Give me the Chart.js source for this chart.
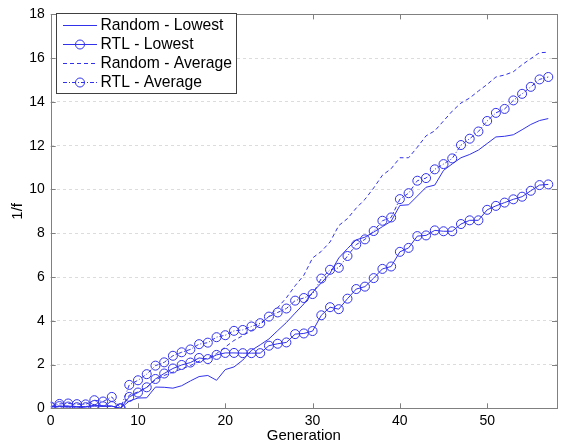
<!DOCTYPE html>
<html><head><meta charset="utf-8">
<script src="https://cdn.jsdelivr.net/npm/chart.js@4/dist/chart.umd.min.js"></script>
<style>html,body{margin:0;padding:0;background:#fff}#w{width:565px;height:445px}</style>
</head><body><div id="w"><canvas id="c" width="565" height="445"></canvas></div>
<script>
const generations = Array.from({length: 58}, (_, i) => i);
const randomLowest = [0.08,0.08,0.1,0.08,0.08,0.1,0.1,0.1,0.0,
 0.33,0.47,0.48,0.97,0.96,0.92,1.03,1.25,1.45,1.5,1.28,1.77,
 1.89,2.2,2.65,2.9,3.17,3.55,3.92,4.35,4.77,5.3,5.73,6.17,6.87,7.3,7.7,
 7.82,8.05,8.3,8.55,9.27,9.3,9.7,10.1,10.2,10.87,11.17,11.45,11.6,11.8,12.1,12.4,12.43,12.5,12.73,12.97,13.15,13.24];
const rtlLowest = [0.05,0.1,0.08,0.05,0.05,0.15,0.09,0.1,0.0,
 0.52,0.72,0.96,1.34,1.59,1.82,1.98,2.09,2.3,2.25,2.44,2.53,
 2.53,2.52,2.52,2.52,2.86,2.95,3.01,3.39,3.42,3.53,4.25,4.62,4.53,5.01,5.45,
 5.56,5.95,6.37,6.48,7.15,7.33,7.87,7.9,8.13,8.09,8.09,8.42,8.59,8.59,9.07,9.25,9.4,9.55,9.67,9.94,10.2,10.23];
const randomAverage = [0.08,0.1,0.1,0.08,0.08,0.12,0.1,0.1,0.0,
 0.6,0.75,0.95,1.3,1.5,1.65,1.8,1.95,2.15,2.3,2.5,2.8,
 3.1,3.32,3.55,3.82,4.2,4.6,5.05,5.6,6.08,6.87,7.17,7.6,8.35,8.67,9.15,
 9.55,10.07,10.65,10.95,11.45,11.45,11.93,12.45,12.68,13.13,13.58,13.95,14.18,14.5,14.8,15.14,15.23,15.38,15.7,15.98,16.25,16.27];
const rtlAverage = [0.08,0.2,0.22,0.19,0.18,0.37,0.31,0.52,0.0,
 1.07,1.28,1.56,1.95,2.1,2.4,2.56,2.69,2.93,3.0,3.25,3.34,
 3.54,3.58,3.74,3.89,4.19,4.38,4.56,4.92,5.04,5.22,5.93,6.33,6.42,6.96,7.48,
 7.72,8.1,8.57,8.72,9.56,9.83,10.4,10.52,10.92,11.16,11.42,12.03,12.32,12.65,13.13,13.5,13.68,14.07,14.37,14.69,15.03,15.14];
const seriesLabels = ['Random - Lowest','RTL - Lowest','Random - Average','RTL - Average'];
const xTicks = [0,10,20,30,40,50];
const yTicks = [0,2,4,6,8,10,12,14,16,18];

const BLUE = 'rgb(50,50,235)';
const FONT = '"Liberation Sans", Arial, sans-serif';
const pts = arr => arr.map((v, i) => ({x: generations[i], y: v}));
const styles = [
  {dash: [], marker: false},
  {dash: [], marker: true},
  {dash: [4,3], marker: false},
  {dash: [4,2,1,2], marker: true}
];
const datasets = [randomLowest, rtlLowest, randomAverage, rtlAverage].map((arr, k) => ({
  label: seriesLabels[k],
  data: pts(arr),
  borderColor: BLUE,
  backgroundColor: 'rgba(0,0,0,0)',
  borderWidth: 1,
  borderDash: styles[k].dash,
  pointStyle: 'circle',
  pointRadius: styles[k].marker ? 4.5 : 0,
  pointBorderWidth: 1,
  pointBorderColor: BLUE,
  pointBackgroundColor: 'rgba(0,0,0,0)',
  tension: 0
}));

const frame = {
  id: 'frame',
  afterDatasetsDraw(chart) {
    const {ctx, chartArea: a, scales} = chart;
    ctx.save();
    ctx.strokeStyle = '#808080';
    ctx.lineWidth = 1;
    ctx.setLineDash([]);
    ctx.strokeRect(Math.round(a.left)+0.5, Math.round(a.top)+0.5, Math.round(a.right-a.left), Math.round(a.bottom-a.top));
    const L = 5;
    ctx.beginPath();
    xTicks.forEach(t => {
      const x = Math.round(scales.x.getPixelForValue(t)) + 0.5;
      ctx.moveTo(x, a.bottom); ctx.lineTo(x, a.bottom - L);
      ctx.moveTo(x, a.top); ctx.lineTo(x, a.top + L);
    });
    yTicks.forEach(t => {
      const y = Math.round(scales.y.getPixelForValue(t)) + 0.5;
      ctx.moveTo(a.left, y); ctx.lineTo(a.left + L, y);
      ctx.moveTo(a.right, y); ctx.lineTo(a.right - L, y);
    });
    ctx.stroke();
    // legend
    const bx = 56.5, by = 13.5, bw = 180, bh = 80;
    ctx.fillStyle = '#fff';
    ctx.fillRect(bx, by, bw, bh);
    ctx.strokeStyle = '#404040';
    ctx.strokeRect(bx, by, bw, bh);
    ctx.font = '15.7px ' + FONT;
    ctx.textBaseline = 'middle';
    ctx.textAlign = 'left';
    seriesLabels.forEach((lab, k) => {
      const y = 25 + k * 19.1;
      ctx.strokeStyle = BLUE;
      ctx.lineWidth = 1;
      ctx.setLineDash(styles[k].dash);
      ctx.beginPath(); ctx.moveTo(63, Math.round(y)+0.5); ctx.lineTo(97, Math.round(y)+0.5); ctx.stroke();
      ctx.setLineDash([]);
      if (styles[k].marker) {
        ctx.beginPath(); ctx.arc(80, Math.round(y)+0.5, 4.5, 0, Math.PI*2); ctx.stroke();
      }
      ctx.fillStyle = '#000';
      ctx.fillText(lab, 100.5, y + 0.5);
    });
    ctx.restore();
  }
};

new Chart(document.getElementById('c'), {
  type: 'line',
  data: {datasets},
  plugins: [frame],
  options: {
    responsive: false,
    animation: false,
    events: [],
    layout: {padding: {top: 9, right: 8, left: 0, bottom: 0}},
    plugins: {legend: {display: false}, tooltip: {enabled: false}},
    scales: {
      x: {
        type: 'linear', min: 0, max: 58,
        afterFit(s) { s.height = 36.7; },
        afterBuildTicks(s) { s.ticks = xTicks.map(v => ({value: v})); },
        grid: {display: false, drawTicks: false},
        border: {display: false},
        ticks: {color: '#000', font: {family: FONT, size: 14}, padding: 4, maxRotation: 0, autoSkip: false},
        title: {display: true, text: 'Generation', color: '#000', font: {family: FONT, size: 15}, padding: {top: 0, bottom: 0}}
      },
      y: {
        type: 'linear', min: 0, max: 18,
        afterFit(s) { s.width = 50.7; },
        afterBuildTicks(s) { s.ticks = yTicks.map(v => ({value: v})); },
        grid: {color: '#dcdcdc', lineWidth: 1, drawTicks: false},
        border: {display: false, dash: [3,3]},
        ticks: {color: '#000', font: {family: FONT, size: 14}, padding: 6, autoSkip: false},
        title: {display: true, text: '1/f', color: '#000', font: {family: FONT, size: 15}, padding: {top: 9, bottom: 0}}
      }
    }
  }
});
</script></body></html>
